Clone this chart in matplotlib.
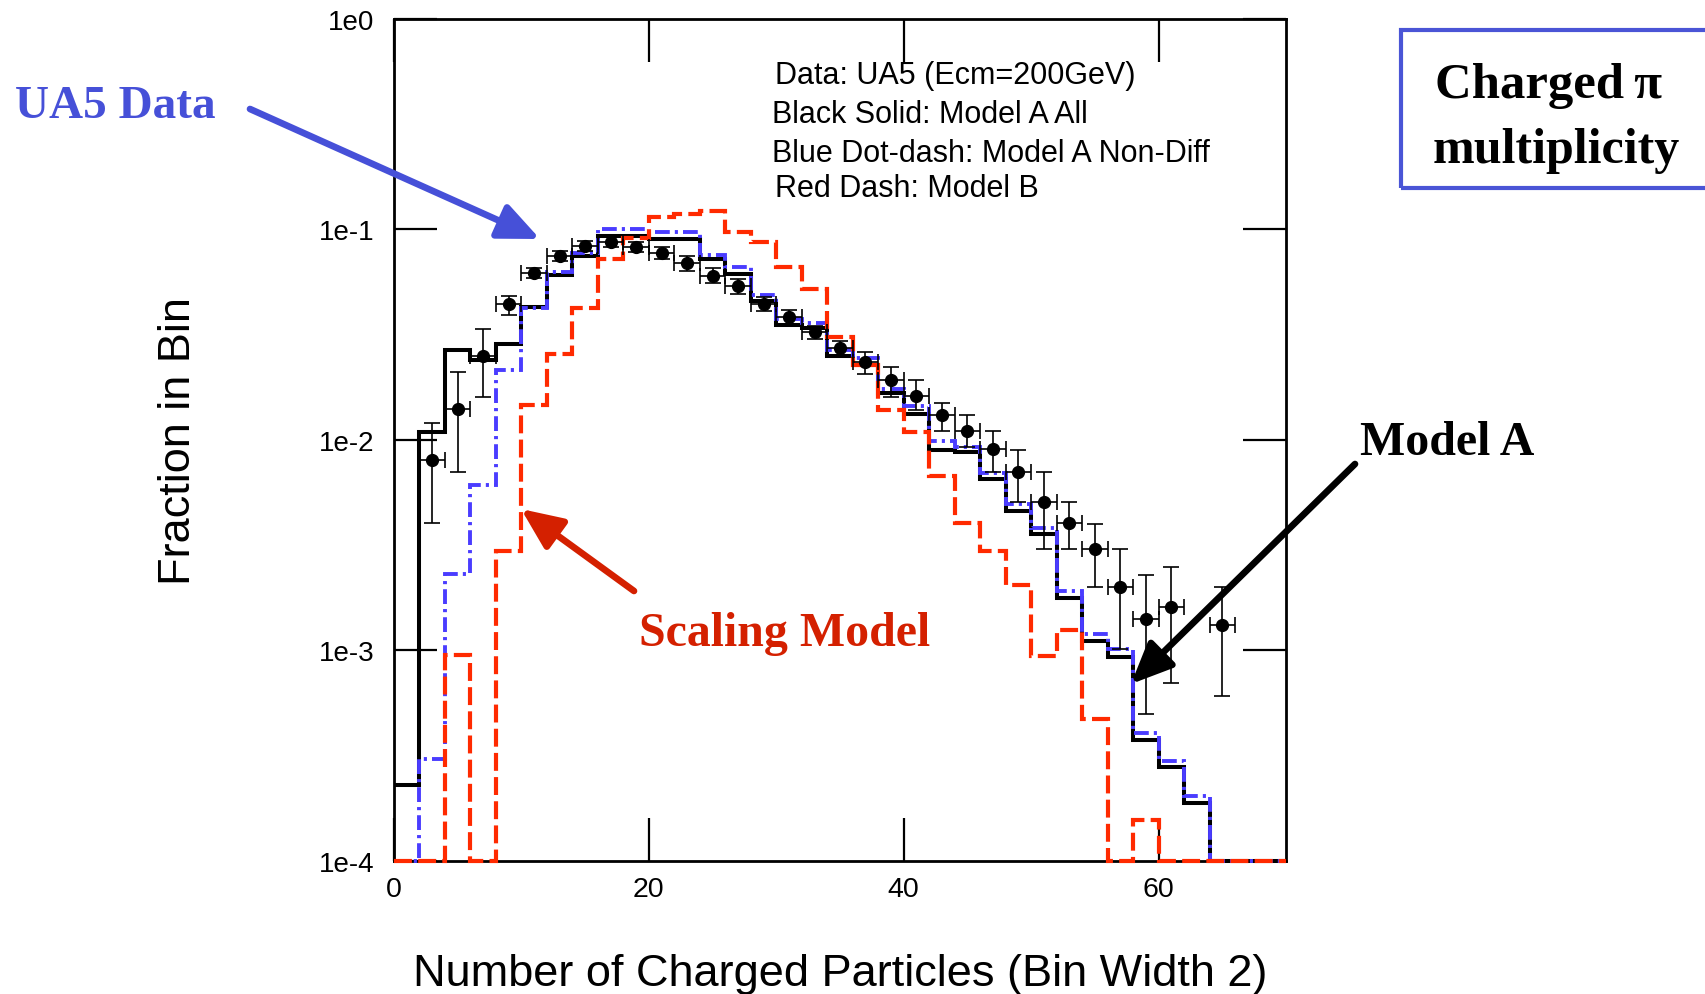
import numpy as np
import matplotlib
matplotlib.use('Agg')
import matplotlib.pyplot as plt
from matplotlib.patches import FancyArrowPatch, Rectangle
from matplotlib.ticker import NullLocator

# bins of width 2 from 0 to 70
bin_edges = np.arange(0, 72, 2)

model_a_all = [2.3e-4, 1.09e-2, 2.67e-2, 2.39e-2, 2.85e-2, 4.28e-2, 6.05e-2, 7.48e-2,
               9.3e-2, 9.3e-2, 8.97e-2, 8.97e-2, 7.2e-2, 6.1e-2, 4.57e-2, 3.51e-2,
               3.4e-2, 2.5e-2, 2.26e-2, 1.67e-2, 1.33e-2, 8.96e-3, 8.7e-3, 6.47e-3,
               4.6e-3, 3.56e-3, 1.77e-3, 1.11e-3, 9.3e-4, 3.74e-4, 2.79e-4, 1.88e-4,
               0, 0, 0]
model_a_nondiff = [0, 3.04e-4, 2.3e-3, 6.09e-3, 2.14e-2, 4.2e-2, 6.23e-2, 7.7e-2,
                   0.1, 0.1, 9.7e-2, 9.7e-2, 7.5e-2, 6.6e-2, 4.86e-2, 3.74e-2,
                   3.6e-2, 2.66e-2, 2.45e-2, 1.74e-2, 1.45e-2, 9.84e-3, 9.25e-3, 6.97e-3,
                   4.93e-3, 3.82e-3, 1.9e-3, 1.2e-3, 1.01e-3, 4.03e-4, 2.99e-4, 2.02e-4,
                   0, 0, 0]
model_b = [0, 0, 9.5e-4, 0, 2.97e-3, 1.46e-2, 2.55e-2, 4.2e-2,
           7.2e-2, 9.1e-2, 0.114, 0.118, 0.122, 9.66e-2, 8.66e-2, 6.6e-2,
           5.19e-2, 3.07e-2, 2.26e-2, 1.39e-2, 1.09e-2, 6.75e-3, 4.03e-3, 2.97e-3,
           2.04e-3, 9.4e-4, 1.25e-3, 4.72e-4, 0, 1.56e-4, 0, 0,
           0, 0, 0]

# UA5 data points (centre, value, upper and lower end of error bar)
ua5_x = [3, 5, 7, 9, 11, 13, 15, 17, 19, 21, 23, 25, 27, 29, 31, 33,
         35, 37, 39, 41, 43, 45, 47, 49, 51, 53, 55, 57, 59, 61, 65]
ua5_y = [8.0e-3, 1.4e-2, 2.5e-2, 4.41e-2, 6.17e-2, 7.48e-2, 8.34e-2, 8.71e-2,
         8.25e-2, 7.7e-2, 6.88e-2, 6.0e-2, 5.35e-2, 4.41e-2, 3.81e-2, 3.23e-2,
         2.72e-2, 2.33e-2, 1.91e-2, 1.61e-2, 1.31e-2, 1.1e-2, 9.07e-3, 7.05e-3,
         5.04e-3, 4.03e-3, 3.01e-3, 2.0e-3, 1.4e-3, 1.6e-3, 1.31e-3]
ua5_hi = [1.2e-2, 2.1e-2, 3.35e-2, 4.83e-2, 6.52e-2, 7.89e-2, 8.81e-2, 9.14e-2,
          8.66e-2, 8.19e-2, 7.43e-2, 6.52e-2, 5.79e-2, 4.74e-2, 4.14e-2, 3.48e-2,
          2.95e-2, 2.61e-2, 2.22e-2, 1.92e-2, 1.5e-2, 1.31e-2, 1.1e-2, 8.96e-3,
          7.03e-3, 5.04e-3, 3.99e-3, 3.01e-3, 2.28e-3, 2.49e-3, 2.0e-3]
ua5_lo = [4.0e-3, 7.0e-3, 1.59e-2, 3.9e-2, 5.84e-2, 7.08e-2, 7.89e-2, 8.19e-2,
          7.81e-2, 7.21e-2, 6.34e-2, 5.55e-2, 4.92e-2, 4.09e-2, 3.5e-2, 3.0e-2,
          2.5e-2, 2.04e-2, 1.6e-2, 1.39e-2, 1.1e-2, 9.25e-3, 7.03e-3, 5.04e-3,
          3.01e-3, 3.01e-3, 2.0e-3, 1.01e-3, 5.0e-4, 6.97e-4, 6.03e-4]

legend_lines = ['Data: UA5 (Ecm=200GeV)', 'Black Solid: Model A All',
                'Blue Dot-dash: Model A Non-Diff', 'Red Dash: Model B']

floor = 1e-4
W, H = 1706, 995


def fpx(x, y):
    # pixel position (from top-left) -> figure fraction
    return (x / W, 1 - y / H)


plt.rcParams['font.family'] = ['Liberation Sans', 'DejaVu Sans']

fig = plt.figure(figsize=(W / 100, H / 100), dpi=100)
ax = fig.add_axes([394 / W, 1 - 861.7 / H, 892 / W, 842.1 / H])
ax.set_yscale('log')

ax.stairs(np.clip(model_a_all, floor, None), bin_edges, baseline=None,
          color='black', lw=2.9, clip_on=False, zorder=2)
ax.stairs(np.clip(model_a_nondiff, floor, None), bin_edges, baseline=None,
          color='#4a3cff', lw=2.8, linestyle=(0, (3.8, 1.3, 0.8, 1.3)), clip_on=False, zorder=3)
ax.stairs(np.clip(model_b, floor, None), bin_edges, baseline=None,
          color='#ff2a00', lw=3.0, linestyle=(0, (4.3, 1.5)), clip_on=False, zorder=3)

y = np.array(ua5_y)
yerr = [y - np.array(ua5_lo), np.array(ua5_hi) - y]
ax.errorbar(ua5_x, ua5_y, xerr=1, yerr=yerr, fmt='o', color='black', ms=8.5,
            elinewidth=1.2, capsize=6, capthick=1.2, zorder=5)

ax.set_xlim(0, 70)
ax.set_ylim(1e-4, 1)
ax.set_xticks([0, 20, 40, 60])
ax.set_yticks([1, 1e-1, 1e-2, 1e-3, 1e-4], labels=['1e0', '1e-1', '1e-2', '1e-3', '1e-4'])
ax.yaxis.set_minor_locator(NullLocator())
ax.tick_params(direction='in', length=31, width=1.6, top=True, right=True, labelsize=20)
ax.tick_params(axis='y', pad=14)
ax.tick_params(axis='x', pad=11, labelsize=20.5)
for s in ax.spines.values():
    s.set_linewidth(2.0)

ax.set_xlabel('Number of Charged Particles (Bin Width 2)', fontsize=32.5)
ax.xaxis.set_label_coords(0.5, (861.7 - 975) / 842.1)
ax.xaxis.label.set_va('center')
ax.set_ylabel('Fraction in Bin', fontsize=32.5)
ax.yaxis.set_label_coords((179 - 394) / 892, 0.5)
ax.yaxis.label.set_va('center')

for (lx, ly), txt in zip([(775, 76), (772, 115), (772, 154), (775, 189)], legend_lines):
    fig.text(*fpx(lx, ly), txt, fontsize=22, va='center')

# annotations
blue = '#4650d8'
red = '#d42000'
serif = dict(family='Liberation Serif', fontweight='bold')
fig.text(*fpx(15, 107), 'UA5 Data', fontsize=34, color=blue, va='center', **serif)
fig.text(*fpx(639, 634), 'Scaling Model', fontsize=34.5, color=red, va='center', **serif)
fig.text(*fpx(1360, 443), 'Model A', fontsize=34.5, color='black', va='center', **serif)
fig.text(*fpx(1549, 86), 'Charged\u2009\u03c0', fontsize=36.5, color='black', va='center', ha='center', **serif)
fig.text(*fpx(1556, 151), 'multiplicity', fontsize=36, color='black', va='center', ha='center', **serif)

fig.add_artist(Rectangle(fpx(1401, 189), (1740 - 1401) / W, (189 - 31) / H,
                         transform=fig.transFigure, fill=False, ec='#4a55d6', lw=3))

for start, end, col in [((250, 110), (540, 240), blue),
                        ((634, 592), (521, 510), red),
                        ((1355, 465), (1131, 685), 'black')]:
    fig.add_artist(FancyArrowPatch(fpx(*start), fpx(*end), transform=fig.transFigure,
                                   arrowstyle='-|>,head_length=1.25,head_width=0.55',
                                   mutation_scale=20, lw=4.8, color=col,
                                   shrinkA=0, shrinkB=0, zorder=10))

fig.savefig('out.png', dpi=100)
